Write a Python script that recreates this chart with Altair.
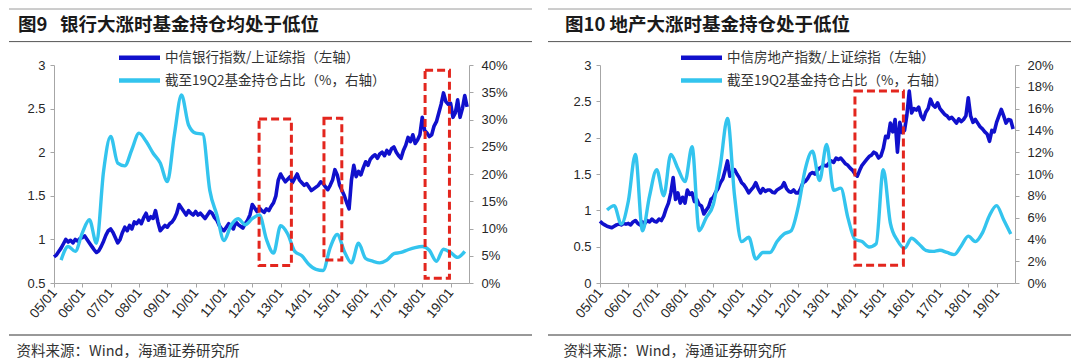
import altair as alt
import pandas as pd

BLUE = "#1010CC"
CYAN = "#33C4EE"
RED = "#E3261E"
AXIS = "#A6A6A6"
LABEL = "#262626"
CJK = "Noto Sans CJK SC"
LAT = "Liberation Sans"

YEAR_TICKS = list(range(2005, 2020))
X_DOMAIN = [2005, 2019.65]

# ---- Panel 1: bank index / SSE composite (monthly, from 2005-01) ----
bank_ratio = [
    0.80, 0.82, 0.86, 0.90, 0.95, 1.00, 0.97, 0.99, 0.96, 1.00, 0.98, 1.01,
    1.02, 1.04, 1.00, 0.96, 0.92, 0.88, 0.85, 0.87, 0.92, 0.98, 1.05, 1.10,
    1.12, 1.08, 1.02, 0.96, 1.00, 1.08, 1.14, 1.10, 1.16, 1.12, 1.20, 1.18,
    1.22, 1.18, 1.25, 1.30, 1.22, 1.26, 1.24, 1.33, 1.20, 1.10, 1.13, 1.16,
    1.14, 1.18, 1.20, 1.24, 1.30, 1.40, 1.36, 1.32, 1.28, 1.33, 1.30, 1.28,
    1.32, 1.28, 1.30, 1.27, 1.24, 1.28, 1.32, 1.30, 1.25, 1.22, 1.16, 1.12,
    1.10, 1.14, 1.18, 1.15, 1.12, 1.20, 1.17, 1.15, 1.13, 1.18, 1.22, 1.28,
    1.40, 1.36, 1.32, 1.36, 1.33, 1.31, 1.35, 1.33, 1.38, 1.42, 1.50, 1.68,
    1.75, 1.70, 1.66, 1.69, 1.72, 1.65, 1.70, 1.75, 1.68, 1.65, 1.62, 1.64,
    1.60, 1.56, 1.58, 1.60, 1.62, 1.66, 1.64, 1.60, 1.57, 1.62, 1.68, 1.80,
    1.74, 1.62, 1.56, 1.50, 1.42, 1.35, 1.68, 1.85, 1.72, 1.78, 1.74, 1.82,
    1.89, 1.85, 1.92, 1.95, 1.97, 1.93, 1.98, 2.00, 1.96, 2.02, 1.98, 2.04,
    2.06, 2.00, 1.96, 1.93, 2.02, 2.08, 2.17, 2.12, 2.20, 2.10, 2.14, 2.20,
    2.40, 2.25, 2.22, 2.18, 2.20, 2.30, 2.35, 2.45, 2.55, 2.68, 2.58, 2.55,
    2.56, 2.40, 2.45, 2.60, 2.40, 2.50, 2.65, 2.52,
]
# fund holding share of banks, % (quarterly, 05Q1 .. 19Q2)
bank_fund = [
    4.2, 6.7, 5.8, 9.2, 11.6, 7.3, 20.5, 26.9, 22.0, 21.5, 24.5, 27.5,
    26.0, 23.8, 22.0, 18.6, 27.2, 34.5, 29.0, 27.5, 27.3, 17.0, 12.5, 7.8,
    10.6, 11.8, 10.7, 11.8, 12.5, 8.0, 5.5, 10.5, 9.0, 5.8, 5.0, 3.4,
    2.5, 2.3, 6.5, 8.9, 5.8, 3.7, 7.3, 4.5, 4.0, 3.7, 4.2, 5.4,
    5.6, 6.1, 6.5, 6.7, 6.0, 4.0, 6.2, 5.6, 4.7, 5.8,
]
bank_box_t = [2012.24, 2014.53, 2018.10]
bank_box_t2 = [2013.38, 2015.16, 2018.96]
bank_box_v = [0.70, 0.765, 0.555]
bank_box_v2 = [2.38, 2.39, 2.94]

# ---- Panel 2: real-estate index / SSE composite ----
prop_ratio = [
    0.85, 0.82, 0.80, 0.78, 0.77, 0.76, 0.78, 0.80, 0.81, 0.80, 0.82, 0.81,
    0.82, 0.80, 0.84, 0.86, 0.82, 0.80, 0.84, 0.82, 0.86, 0.84, 0.88, 0.85,
    0.84, 0.88, 0.86, 0.92, 1.02, 1.10, 1.24, 1.45, 1.15, 1.24, 1.10, 1.18,
    1.10, 1.28, 1.22, 1.24, 1.12, 1.15, 1.08, 1.06, 0.95, 1.00, 1.05, 1.15,
    1.18, 1.25, 1.30, 1.38, 1.43, 1.55, 1.68, 1.47, 1.52, 1.56, 1.50, 1.45,
    1.38, 1.35, 1.30, 1.24, 1.28, 1.32, 1.38, 1.30, 1.24, 1.30, 1.26, 1.28,
    1.28, 1.25, 1.24, 1.28, 1.30, 1.32, 1.38, 1.30, 1.26, 1.25, 1.28, 1.24,
    1.24, 1.30, 1.38, 1.40, 1.44, 1.50, 1.52, 1.50, 1.55, 1.58, 1.60, 1.62,
    1.61, 1.65, 1.68, 1.66, 1.72, 1.70, 1.72, 1.68, 1.64, 1.62, 1.58, 1.55,
    1.50, 1.47, 1.55, 1.62, 1.66, 1.70, 1.74, 1.76, 1.80, 1.78, 1.72, 1.75,
    1.85, 2.02, 2.00, 2.20, 2.08, 2.25, 1.80, 2.21, 2.07, 2.10, 2.31, 2.64,
    2.34, 2.40, 2.38, 2.42, 2.30, 2.25, 2.35, 2.40, 2.53, 2.45, 2.42, 2.48,
    2.40, 2.36, 2.32, 2.30, 2.26, 2.28, 2.24, 2.20, 2.26, 2.22, 2.25, 2.30,
    2.55, 2.30, 2.21, 2.25, 2.20, 2.15, 2.12, 2.08, 2.05, 1.95, 2.10, 2.08,
    2.21, 2.30, 2.39, 2.30, 2.20, 2.25, 2.24, 2.12,
]
prop_fund = [
    6.7, 7.1, 5.4, 7.5, 11.8, 4.8, 8.0, 10.4, 8.0, 11.8, 10.5, 9.3,
    12.5, 4.8, 6.0, 7.2, 10.8, 15.1, 8.0, 3.8, 4.2, 2.2, 2.8, 2.8,
    3.8, 4.5, 4.8, 7.0, 10.5, 12.1, 9.4, 12.7, 8.5, 8.7, 6.0, 4.0,
    3.8, 3.3, 3.6, 10.4, 5.5, 3.9, 3.2, 4.1, 3.6, 3.0, 2.9, 3.0,
    2.8, 2.6, 3.4, 4.3, 3.8, 4.6, 6.2, 7.1, 5.8, 4.5,
]
prop_box_t = [2014.00]
prop_box_t2 = [2015.71]
prop_box_v = [0.244]
prop_box_v2 = [2.642]

titles = ["图9\u00a0\u00a0\u00a0银行大涨时基金持仓均处于低位", "图10\u00a0地产大涨时基金持仓处于低位"]
legend_blue = ["中信银行指数/上证综指（左轴）", "中信房地产指数/上证综指（左轴）"]
legend_cyan = "截至19Q2基金持仓占比（%，右轴）"
source_text = "资料来源：Wind，海通证券研究所"

W, H = 415, 218


def monthly(vals):
    return pd.DataFrame({"t": [2005 + i / 12 for i in range(len(vals))], "v": vals})


def quarterly(vals):
    return pd.DataFrame({"t": [2005 + 0.25 * (k + 1) for k in range(len(vals))], "p": vals})


def one():
    return pd.DataFrame({"a": [0]})


def panel(ratio, fund, bt, bt2, bv, bv2, ldom, lvals, rdom, rvals,
          title, leg_blue, leg_x0, rule_x0, rule_x1, title_x):
    xscale = alt.Scale(domain=X_DOMAIN, nice=False, zero=False)
    xaxis = alt.Axis(values=YEAR_TICKS,
                     labelExpr="(datum.value < 2010 ? '0' : '') + (datum.value - 2000) + '/01'",
                     labelAngle=-50, labelAlign="right", labelBaseline="middle",
                     labelFont=LAT, labelFontSize=13.5, labelColor=LABEL,
                     domainColor=AXIS, tickColor=AXIS, tickSize=4, labelPadding=3,
                     labelFlush=False, labelOverlap=False, labelSeparation=0,
                     grid=False, title=None)
    lscale = alt.Scale(domain=ldom, nice=False, zero=False)
    laxis = alt.Axis(orient="left", values=lvals, format="~g",
                     labelFont=LAT, labelFontSize=13, labelColor=LABEL,
                     domainColor=AXIS, tickColor=AXIS, tickSize=4, labelPadding=5,
                     grid=False, title=None)
    raxis = alt.Axis(orient="right", values=rvals, labelExpr="datum.value + '%'",
                     labelFont=LAT, labelFontSize=13, labelColor=LABEL,
                     domainColor=AXIS, tickColor=AXIS, tickSize=4, labelPadding=8,
                     grid=False, title=None)

    blue = alt.Chart(monthly(ratio)).mark_line(
        color=BLUE, strokeWidth=3.6, strokeJoin="round").encode(
        x=alt.X("t:Q", scale=xscale, axis=xaxis),
        y=alt.Y("v:Q", scale=lscale, axis=laxis))

    cyan = alt.Chart(quarterly(fund)).mark_line(
        color=CYAN, strokeWidth=3.4, interpolate="monotone").encode(
        x=alt.X("t:Q", scale=xscale, axis=xaxis),
        y=alt.Y("p:Q", scale=alt.Scale(domain=rdom, nice=False, zero=False), axis=raxis))

    boxes = alt.Chart(pd.DataFrame({"t": bt, "t2": bt2, "v": bv, "v2": bv2})).mark_rect(
        filled=False, color=RED, strokeWidth=3, strokeDash=[8, 4]).encode(
        x=alt.X("t:Q", scale=xscale, axis=xaxis), x2="t2",
        y=alt.Y("v:Q", scale=lscale, axis=None), y2="v2")

    decor = [
        alt.Chart(one()).mark_rule(color="#9A9A9A", strokeWidth=1).encode(
            x=alt.value(rule_x0), x2=alt.value(rule_x1), y=alt.value(-56)),
        alt.Chart(one()).mark_rule(color="#555555", strokeWidth=1).encode(
            x=alt.value(rule_x0), x2=alt.value(rule_x1), y=alt.value(-23.4)),
        alt.Chart(one()).mark_rule(color="#333333", strokeWidth=1).encode(
            x=alt.value(rule_x0), x2=alt.value(rule_x1), y=alt.value(270)),
        alt.Chart(one()).mark_text(align="left", baseline="middle", font=CJK,
                                   fontSize=18.5, fontWeight="bold", color="#1A1A1A").encode(
            x=alt.value(title_x), y=alt.value(-40), text=alt.value(title)),
        alt.Chart(one()).mark_text(align="left", baseline="middle", font=CJK,
                                   fontSize=14.5, color="#333333").encode(
            x=alt.value(title_x - 1.5), y=alt.value(287), text=alt.value(source_text)),
        alt.Chart(one()).mark_rule(color=BLUE, strokeWidth=4.5).encode(
            x=alt.value(leg_x0), x2=alt.value(leg_x0 + 41), y=alt.value(-7.3)),
        alt.Chart(one()).mark_rule(color=CYAN, strokeWidth=4.5).encode(
            x=alt.value(leg_x0), x2=alt.value(leg_x0 + 41), y=alt.value(15.5)),
        alt.Chart(one()).mark_text(align="left", baseline="middle", font=CJK,
                                   fontSize=13.5, color="#333333").encode(
            x=alt.value(leg_x0 + 46), y=alt.value(-7.3), text=alt.value(leg_blue)),
        alt.Chart(one()).mark_text(align="left", baseline="middle", font=CJK,
                                   fontSize=13.5, color="#333333").encode(
            x=alt.value(leg_x0 + 46), y=alt.value(15.5), text=alt.value(legend_cyan)),
    ]

    return alt.layer(blue, cyan, boxes, *decor).resolve_scale(y="independent").properties(
        width=W, height=H)


left = panel(bank_ratio, bank_fund, bank_box_t, bank_box_t2, bank_box_v, bank_box_v2,
             [0.5, 3], [0.5, 1, 1.5, 2, 2.5, 3], [0, 40], list(range(0, 45, 5)),
             titles[0], legend_blue[0], 65, -45, 478, -36)
right = panel(prop_ratio, prop_fund, prop_box_t, prop_box_t2, prop_box_v, prop_box_v2,
              [0, 3], [0, 0.5, 1, 1.5, 2, 2.5, 3], [0, 20], list(range(0, 22, 2)),
              titles[1], legend_blue[1], 81, -52, 471, -35)

chart = alt.hconcat(left, right, spacing=14).configure_view(stroke=None).configure_axis(
    labelOverlap=False).properties(padding=0, background="white")

chart.save("out.html", embed_options={"renderer": "svg", "actions": False})
